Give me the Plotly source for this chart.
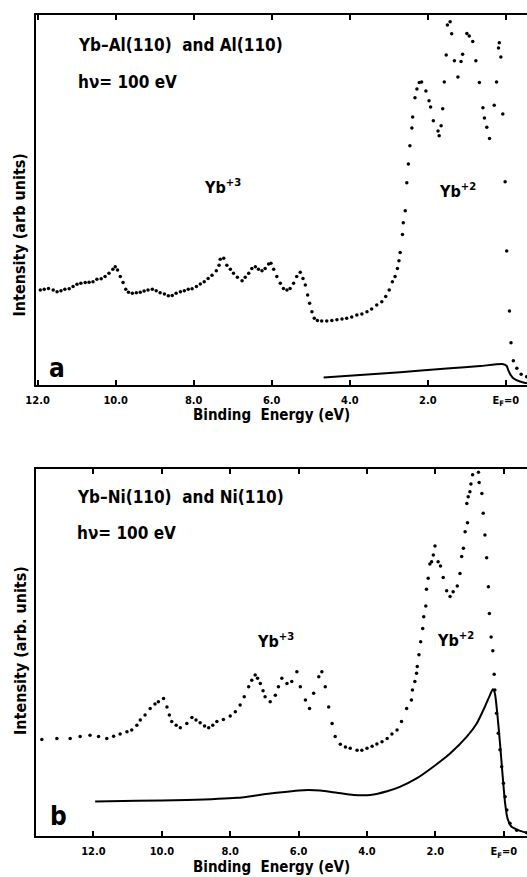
import plotly.graph_objects as go

# ---------------- Panel a : Yb-Al(110) (dots) and Al(110) (solid) ----------------
a_dot_ev = [11.93, 11.83, 11.72, 11.60, 11.50, 11.40, 11.30, 11.19, 11.09, 10.99, 10.89, 10.78,
            10.68, 10.58, 10.48, 10.37, 10.27, 10.17, 10.07, 10.01, 9.95, 9.88, 9.81, 9.74, 9.67,
            9.57, 9.47, 9.37, 9.27, 9.17, 9.06, 8.96, 8.86, 8.75, 8.65, 8.55, 8.45, 8.34, 8.24,
            8.14, 8.04, 7.93, 7.83, 7.73, 7.63, 7.53, 7.42, 7.35,
            7.32, 7.23, 7.15, 7.06, 6.98, 6.88, 6.76, 6.68, 6.59, 6.51, 6.42, 6.34, 6.25, 6.17,
            6.08, 6.02, 5.95, 5.87, 5.78, 5.70, 5.61, 5.53, 5.44, 5.36, 5.27, 5.20, 5.14, 5.08,
            5.03, 4.97, 4.91, 4.83, 4.72, 4.59, 4.46, 4.33, 4.20, 4.08, 3.95, 3.82, 3.69, 3.56,
            3.44, 3.31, 3.18, 3.08, 2.99, 2.91, 2.84, 2.78, 2.74, 2.71,
            2.65, 2.63, 2.58, 2.54, 2.50, 2.46, 2.41, 2.39, 2.33, 2.28, 2.22, 2.16, 2.05, 1.97,
            1.93, 1.86, 1.74, 1.71, 1.66, 1.62, 1.58, 1.53, 1.50, 1.43, 1.39, 1.32, 1.23, 1.15,
            1.11, 1.00, 0.94, 0.85, 0.77, 0.68, 0.59, 0.55, 0.49, 0.42, 0.30, 0.24, 0.19, 0.17,
            0.13, 0.08, 0.02, -0.02, -0.09, -0.13, -0.19, -0.28, -0.39, -0.53]
a_dot_int = [25.6, 25.8, 26.0, 25.6, 25.1, 25.4, 25.8, 25.9, 26.5, 27.1, 27.4, 27.6,
             27.7, 27.8, 28.5, 28.6, 29.2, 30.1, 31.2, 31.9, 31.0, 29.2, 27.6, 25.8, 25.0,
             24.7, 24.8, 25.0, 25.3, 25.6, 25.8, 25.4, 24.8, 24.5, 24.0, 24.1, 24.7, 25.1, 25.4,
             25.8, 25.9, 26.5, 27.2, 27.8, 28.7, 29.6, 30.8, 32.3,
             33.9, 34.2, 32.3, 31.2, 30.1, 29.0, 28.1, 29.0, 30.1, 31.4, 31.9, 31.2, 30.8, 31.4,
             32.6, 32.8, 31.2, 29.2, 27.4, 26.0, 25.6, 26.0, 27.4, 29.2, 30.4, 28.7, 26.9, 24.2,
             22.0, 19.7, 17.9, 17.3, 17.2, 17.2, 17.3, 17.5, 17.7, 17.9, 18.3, 18.8, 19.1, 19.7,
             20.4, 21.5, 22.4, 23.8, 25.6, 27.8, 29.2, 31.4, 33.5, 35.7,
             40.6, 43.8, 47.0, 54.6, 59.7, 64.6, 69.4, 72.4, 77.6, 80.0, 81.7, 81.9, 79.4, 76.8,
             75.1, 71.4, 68.6, 67.3, 70.0, 74.6, 81.9, 89.2, 97.3, 98.2, 94.9, 87.6, 83.2, 87.4,
             89.4, 95.0, 94.3, 92.8, 87.6, 81.7, 74.9, 72.1, 69.6, 66.6, 75.6, 81.9, 91.1, 92.5,
             88.6, 73.2, 54.9, 36.1, 19.9, 11.3, 6.4, 4.4, 2.8, 2.1]

a_line_ev = [4.67, 2.71, 1.43, 0.66, 0.07, -0.02, -0.06, -0.12, -0.19, -0.36, -0.54]
a_line_int = [1.9, 3.3, 4.4, 5.0, 5.5, 5.0, 3.9, 2.6, 1.7, 0.8, 0.3]

# ---------------- Panel b : Yb-Ni(110) (dots) and Ni(110) (solid) ----------------
b_dot_ev = [13.51, 13.07, 12.68, 12.39, 12.10, 11.85, 11.61, 11.41, 11.22, 11.02, 10.88, 10.73,
            10.63, 10.49, 10.34, 10.20, 10.10, 9.95, 9.85, 9.78, 9.71, 9.58, 9.46, 9.27, 9.12,
            9.00, 8.88, 8.75, 8.63, 8.51, 8.39, 8.20, 8.00, 7.85, 7.71, 7.59, 7.46, 7.37, 7.27,
            7.20, 7.12, 7.04, 6.98, 6.83, 6.68, 6.59, 6.49, 6.34, 6.20, 6.05, 5.95, 5.80, 5.68,
            5.56, 5.41, 5.32, 5.22, 5.12, 5.02, 4.93, 4.78, 4.63, 4.49, 4.29, 4.15, 4.00, 3.85,
            3.71, 3.56, 3.41, 3.27, 3.12,
            2.99, 2.84, 2.70, 2.67, 2.60, 2.55, 2.53, 2.48, 2.43, 2.37, 2.34, 2.28, 2.26, 2.21,
            2.16, 2.11, 2.06, 2.01, 1.92, 1.85, 1.77, 1.67, 1.57, 1.48, 1.36, 1.28, 1.23, 1.18,
            1.13, 1.06, 1.08, 1.04, 0.99, 0.96, 0.91, 0.84, 0.74, 0.72, 0.64, 0.60, 0.55, 0.50,
            0.45, 0.42, 0.37, 0.32, 0.28, 0.26, 0.21, 0.16, 0.11, 0.06, 0.01, -0.04, -0.09,
            -0.18, -0.38, -0.67]
b_dot_int = [26.3, 26.6, 26.6, 27.1, 27.5, 27.1, 26.6, 27.2, 27.8, 28.4, 28.9, 30.2,
             31.6, 33.0, 34.8, 36.0, 36.6, 37.5, 35.2, 33.0, 31.2, 30.2, 29.5, 30.7, 32.3,
             31.6, 30.9, 30.0, 29.5, 30.2, 31.2, 31.8, 32.7, 33.9, 35.7, 38.0, 40.7, 42.5, 43.9,
             43.0, 41.6, 39.6, 38.0, 36.6, 38.4, 40.7, 43.0, 41.6, 42.1, 44.8, 40.7, 37.1, 34.8,
             38.9, 43.4, 44.8, 40.7, 35.2, 30.7, 27.1, 25.0, 24.3, 23.9, 23.4, 23.4, 23.9, 24.5,
             25.1, 25.7, 26.6, 27.8, 28.9,
             31.2, 34.8, 37.1, 39.8, 42.1, 44.4, 46.2, 49.4, 53.0, 56.6, 59.8, 62.7, 67.3, 70.3,
             74.2, 74.8, 76.6, 79.1, 74.8, 73.6, 70.5, 66.9, 65.3, 66.6, 68.2, 71.6, 76.2, 78.5,
             83.0, 85.4, 90.7, 92.5, 93.9, 96.0, 98.5, 100.5, 99.2, 96.4, 93.4, 88.0, 82.1, 75.9,
             68.0, 60.7, 54.3, 50.5, 44.1, 39.8, 33.5, 28.0, 23.5, 18.9, 14.4, 10.7, 7.1,
             3.5, 1.6, 0.9]

b_line_ev = [11.95, 10.73, 9.27, 7.80, 6.83, 5.85, 5.37, 4.88, 4.39, 3.90, 3.41, 3.04,
             2.55, 2.06, 1.57, 1.08, 0.79, 0.55, 0.40, 0.32, 0.26, 0.19, 0.11, 0.03, -0.04,
             -0.11, -0.23, -0.48, -0.68]
b_line_int = [9.4, 9.6, 9.8, 10.4, 11.6, 12.5, 12.4, 11.8, 11.2, 11.2, 12.2, 13.4,
              15.7, 18.9, 22.5, 27.1, 30.7, 35.3, 38.5, 40.0, 38.9, 33.5, 25.3, 16.2, 8.9,
              4.8, 2.5, 1.4, 0.9]

tick_vals = [12, 10, 8, 6, 4, 2, 0]
tick_text = ["12.0", "10.0", "8.0", "6.0", "4.0", "2.0", "E<sub>F</sub>=0"]

W, H = 527, 877
FONT = "DejaVu Sans Condensed, DejaVu Sans"

fig = go.Figure()
dot_style = dict(mode="markers", marker=dict(color="black", size=3.5), showlegend=False,
                 hoverinfo="skip")
line_style = dict(mode="lines", line=dict(color="black", width=2, shape="spline", smoothing=0.6),
                  showlegend=False, hoverinfo="skip")

fig.add_trace(go.Scatter(x=a_dot_ev, y=a_dot_int, xaxis="x", yaxis="y", **dot_style))
fig.add_trace(go.Scatter(x=a_line_ev, y=a_line_int, xaxis="x", yaxis="y", **line_style))
fig.add_trace(go.Scatter(x=b_dot_ev, y=b_dot_int, xaxis="x2", yaxis="y2", **dot_style))
fig.add_trace(go.Scatter(x=b_line_ev, y=b_line_int, xaxis="x2", yaxis="y2", **line_style))

xdom = [36 / W, 1.0]
ya_dom = [1 - 384.5 / H, 1 - 15 / H]
yb_dom = [1 - 836 / H, 1 - 469.3 / H]

xcommon = dict(tickvals=tick_vals, ticktext=tick_text, ticks="inside", ticklen=5,
               tickwidth=1.5, tickcolor="black", showline=True, linecolor="black",
               linewidth=2, mirror="ticks", showgrid=False, zeroline=False,
               tickfont=dict(family=FONT, size=11, color="black", weight="bold"),
               ticklabelstandoff=4, ticklabeloverflow="allow", automargin=False,
               domain=xdom)
ycommon = dict(range=[0, 100], showticklabels=False, ticks="", showline=True,
               linecolor="black", linewidth=2, mirror=False, showgrid=False,
               zeroline=False, automargin=False)

fig.update_layout(
    template="none",
    width=W, height=H, margin=dict(l=0, r=0, t=0, b=0, autoexpand=False),
    paper_bgcolor="white", plot_bgcolor="white",
    xaxis=dict(range=[12.04, -0.54], anchor="y", **xcommon),
    yaxis=dict(domain=ya_dom, anchor="x", **ycommon),
    xaxis2=dict(range=[13.68, -0.68], anchor="y2", **xcommon),
    yaxis2=dict(domain=yb_dom, anchor="x2", **ycommon),
)

def txt(x, y, s, xref, yref, size, xanchor="center", angle=0):
    fig.add_annotation(x=x, y=y, xref=xref, yref=yref, text=s, showarrow=False,
                       xanchor=xanchor, yanchor="middle", textangle=angle,
                       font=dict(family=FONT, size=size, color="black", weight="bold"))

# panel a texts
txt(11.01, 91.9, "Yb–Al(110)  and Al(110)", "x", "y", 17, "left")
txt(11.01, 81.9, "hν= 100 eV", "x", "y", 17, "left")
txt(7.27, 53.5, "Yb<sup>+3</sup>", "x", "y", 16)
txt(1.25, 52.6, "Yb<sup>+2</sup>", "x", "y", 16)
txt(11.49, 4.5, "a", "x", "y", 26)
txt(18.5 / W, 1 - 235 / H, "Intensity (arb units)", "paper", "paper", 16, "center", -90)
txt(271 / W, 1 - 415 / H, "Binding  Energy (eV)", "paper", "paper", 15)

# panel b texts
txt(12.55, 92.5, "Yb–Ni(110)  and Ni(110)", "x2", "y2", 17, "left")
txt(12.55, 82.6, "hν= 100 eV", "x2", "y2", 17, "left")
txt(6.68, 53.2, "Yb<sup>+3</sup>", "x2", "y2", 16)
txt(1.40, 53.5, "Yb<sup>+2</sup>", "x2", "y2", 16)
txt(13.03, 5.5, "b", "x2", "y2", 26)
txt(20 / W, 1 - 651 / H, "Intensity (arb. units)", "paper", "paper", 16, "center", -90)
txt(271 / W, 1 - 867 / H, "Binding  Energy (eV)", "paper", "paper", 15)

fig.write_html("out.html", config={"displayModeBar": False},
               post_script="document.body.style.margin='0px';")
